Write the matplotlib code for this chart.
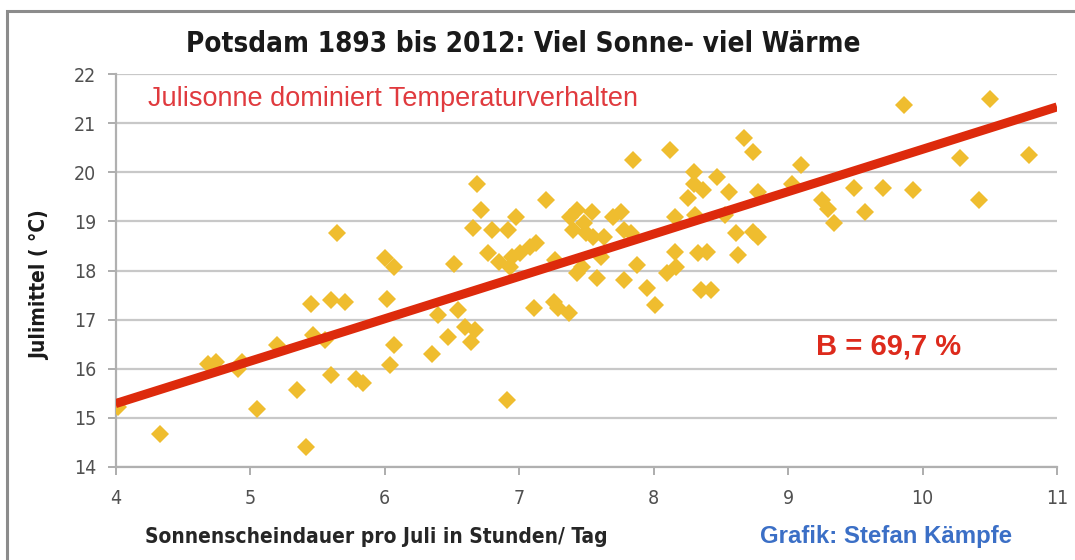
import matplotlib.pyplot as plt
from matplotlib.patches import Rectangle

# ── data ────────────────────────────────────────────────────
sunshine = [4.02, 4.33, 4.69, 4.75, 4.91, 4.94, 5.05, 5.20, 5.35, 5.42,
            5.45, 5.47, 5.56, 5.60, 5.60, 5.65, 5.71, 5.79, 5.84, 6.00,
            6.07, 6.02, 6.07, 6.04, 6.35, 6.40, 6.47, 6.52, 6.55, 6.69,
            6.72, 6.66, 6.80, 6.92, 6.98, 6.77, 6.85, 6.95, 7.01, 6.93,
            7.08, 7.13, 6.60, 6.67, 6.64, 6.91, 7.11, 7.26, 7.29, 7.37,
            7.20, 7.27, 7.38, 7.43, 7.40, 7.48, 7.54, 7.50, 7.55, 7.63,
            7.43, 7.47, 7.58, 7.61, 7.70, 7.76, 7.78, 7.83, 7.85, 7.78,
            7.88, 7.95, 8.01, 8.12, 8.16, 8.10, 8.17, 8.16, 8.26, 8.30,
            8.30, 8.37, 8.31, 8.33, 8.40, 8.35, 8.43, 8.47, 8.56, 8.53,
            8.61, 8.63, 8.67, 8.74, 8.78, 8.74, 8.78, 9.03, 9.10, 9.25,
            9.30, 9.34, 9.49, 9.57, 9.71, 9.86, 9.93, 10.28, 10.42, 10.50,
            10.79]
temp = [15.22, 14.68, 16.09, 16.14, 16.00, 16.14, 15.19, 16.48, 15.56, 14.40,
        17.31, 16.68, 16.58, 17.40, 15.87, 18.76, 17.36, 15.80, 15.71, 18.25,
        18.08, 17.43, 16.48, 16.07, 16.31, 17.09, 16.65, 18.14, 17.19, 19.77,
        19.23, 18.86, 18.82, 18.82, 19.09, 18.35, 18.18, 18.28, 18.35, 18.08,
        18.48, 18.55, 16.85, 16.79, 16.55, 15.37, 17.23, 17.36, 17.23, 17.13,
        19.43, 18.21, 19.09, 19.23, 18.82, 18.96, 19.20, 18.76, 18.69, 18.69,
        17.94, 18.08, 17.84, 18.28, 19.09, 19.20, 18.82, 18.76, 20.25, 17.80,
        18.11, 17.64, 17.30, 20.45, 19.09, 17.94, 18.08, 18.38, 19.47, 20.01,
        19.77, 19.64, 19.13, 18.35, 18.38, 17.60, 17.60, 19.91, 19.60, 19.13,
        18.76, 18.31, 20.69, 20.42, 19.60, 18.79, 18.69, 19.77, 20.15, 19.43,
        19.26, 18.96, 19.67, 19.20, 19.67, 21.37, 19.64, 20.28, 19.43, 21.50,
        20.35]

trend_x = [4, 11]
trend_y = [15.29, 21.33]

x_ticks = [4, 5, 6, 7, 8, 9, 10, 11]
y_ticks = [14, 15, 16, 17, 18, 19, 20, 21, 22]

NARROW = dict(family=['DejaVu Sans'], fontstretch='condensed')
ARIAL = dict(family=['Liberation Sans', 'DejaVu Sans'])

fig = plt.figure(figsize=(10.75, 5.6), dpi=100)
fig.patches.append(Rectangle((7 / 1075, -0.1), 1.2, 1 - 11 / 560 + 0.1,
                             transform=fig.transFigure, fill=False,
                             edgecolor='#8c8c8c', lw=2.2))

ax = fig.add_axes([115.5 / 1075, 1 - 467 / 560, (1057 - 115.5) / 1075, (467 - 74) / 560])

ax.plot(sunshine, temp, linestyle='none', marker='D', markersize=9.5,
        color='#efbd2f', markeredgewidth=0, zorder=3)
ax.plot(trend_x, trend_y, color='#dd2a0c', lw=6.5, solid_capstyle='butt', zorder=4)

ax.set_xlim(4, 11)
ax.set_ylim(14, 22)
ax.set_xticks(x_ticks)
ax.set_yticks(y_ticks)
ax.set_xticklabels([str(v) for v in x_ticks], fontsize=14, color='#505050', **NARROW)
ax.set_yticklabels([str(v) for v in y_ticks], fontsize=14, color='#505050', **NARROW)
ax.tick_params(axis='both', length=6, color='#a0a0a0', width=1.2)
ax.tick_params(axis='x', pad=10)
ax.tick_params(axis='y', pad=8)

ax.grid(axis='y', color='#c8c8c8', lw=1.6)
ax.set_axisbelow(True)
for side in ['top', 'right']:
    ax.spines[side].set_visible(False)
for side in ['left', 'bottom']:
    ax.spines[side].set_color('#b0b0b0')
    ax.spines[side].set_linewidth(1.6)

# texts
fig.text(523 / 1075, 1 - 44 / 560, 'Potsdam 1893 bis 2012: Viel Sonne- viel Wärme',
         fontweight='bold', fontsize=20, ha='center', va='center',
         color='#1a1a1a', **NARROW)
ax.text(4.24, 21.5, 'Julisonne dominiert Temperaturverhalten',
        fontsize=19.5, color='#e03a3e', ha='left', va='center', **ARIAL)
ax.text(9.75, 16.45, 'B = 69,7 %', fontweight='bold', fontsize=21,
        color='#dd2a1c', ha='center', va='center', **ARIAL)
fig.text(40 / 1075, 1 - 285 / 560, 'Julimittel ( °C)', fontweight='bold',
         fontsize=15, rotation=90, ha='center', va='center', color='#1a1a1a', **NARROW)
fig.text(376 / 1075, 1 - 537 / 560, 'Sonnenscheindauer pro Juli in Stunden/ Tag',
         fontweight='bold', fontsize=15, ha='center', va='center',
         color='#262626', **NARROW)
fig.text(886 / 1075, 1 - 537 / 560, 'Grafik: Stefan Kämpfe',
         fontweight='bold', fontsize=17.3, ha='center', va='center', color='#3b6fc6', **ARIAL)

fig.savefig('out.png', dpi=100)
